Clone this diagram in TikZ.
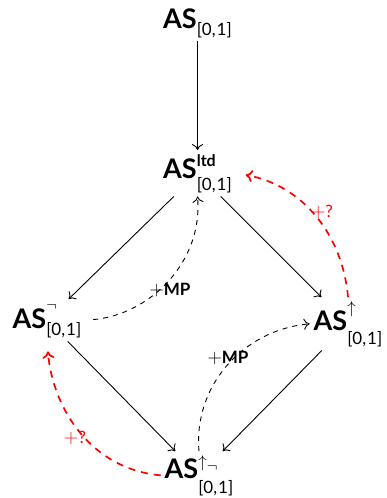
\RequirePackage{fix-cm}
\documentclass[tikz,border=0pt]{standalone}
\usepackage{graphicx}
\usepackage[no-math]{fontspec}
\setmainfont{Lato}
\newfontfamily\symfont{DejaVu Sans}
\usetikzlibrary{arrows.meta}
% #1 superscript material, #2 its raise, #3 subscript drop
\newcommand{\ASn}[3]{{\bfseries AS}\rlap{\raisebox{#2}{#1}}\raisebox{-#3}{\fontsize{17}{17}\selectfont[0,\kern1pt1]}}
\newcommand{\symup}{{\fontsize{17}{17}\selectfont\mdseries$\uparrow$}}
\newcommand{\symneg}{{\fontsize{16}{16}\selectfont\mdseries$\neg$}}
\newcommand{\bigplus}{{\fontsize{20}{20}\selectfont$+$}}
\begin{document}
\begin{tikzpicture}[x=1pt,y=-1pt,
  obj/.style={inner sep=1pt,outer sep=3pt,anchor=base,font=\fontsize{27}{30}\selectfont},
  lbl/.style={font=\fontsize{17}{20}\selectfont},
  mor/.style={-{To[length=6pt,width=11pt]},line width=0.9pt},
  ext/.style={mor,dash pattern=on 5pt off 5pt},
  red/.style={-{To[length=7pt,width=12pt]},line width=1.7pt,draw=red,dash pattern=on 7pt off 6pt},
  redlbl/.style={lbl,text=red}]
\useasboundingbox (0,0) rectangle (387,498);
\node[obj] (top) at (197.5,28) {\ASn{}{0pt}{7pt}};
\node[obj] (ltd) at (197.5,178) {\ASn{\fontsize{16}{16}\selectfont\bfseries ltd}{12pt}{12pt}};
\node[obj] (left) at (47,328) {\ASn{\symneg}{18pt}{7pt}};
\node[obj] (right) at (348,330) {\ASn{\symup}{17pt}{14pt}};
\node[obj] (bot) at (199,478) {\ASn{\symup\raisebox{-4pt}{\symneg}}{11pt}{15pt}};
\draw[mor] (top) -- (ltd);
\draw[mor] (ltd) -- (left);
\draw[mor] (ltd) -- (right);
\draw[mor] (left) -- (bot);
\draw[mor] (right) -- (bot);
\draw[ext,shorten <=8pt] (left.east) to[out=5,in=-85] (ltd.south);
\draw[ext] (bot.north) to[out=95,in=185] (right.west);
\draw[red,shorten >=10pt] (right.north) to[out=95,in=-10] (ltd.east);
\draw[red,shorten >=10pt] (bot.west) to[out=175,in=-85] (left.south);
\node[lbl] (mp1) at (170,290) {\bigplus\textbf{MP}};
\node[lbl] (mp2) at (228,358) {\bigplus\textbf{MP}};
\node[redlbl] (q1) at (322,212) {\bigplus?};
\node[redlbl] (q2) at (75,438) {\bigplus?};
\end{tikzpicture}
\end{document}
